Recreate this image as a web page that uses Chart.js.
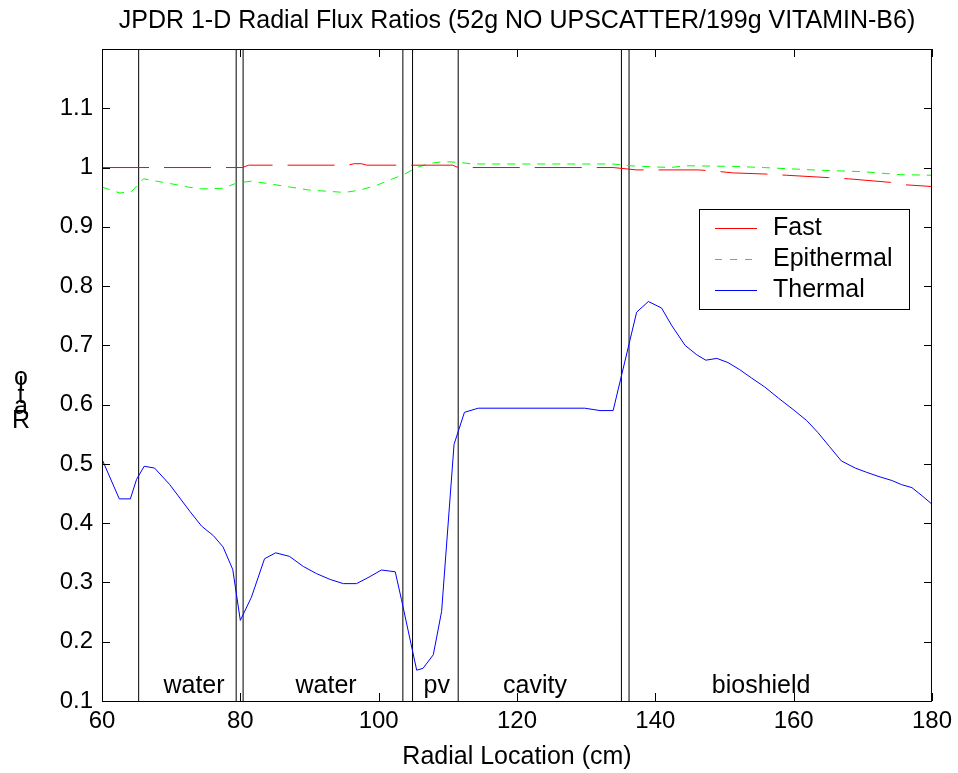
<!DOCTYPE html>
<html>
<head>
<meta charset="utf-8">
<script src="https://cdn.jsdelivr.net/npm/chart.js@4/dist/chart.umd.min.js"></script>
<style>
  html, body { margin: 0; padding: 0; background: #fff; }
</style>
</head>
<body>
<canvas id="fluxChart" width="958" height="773"></canvas>
<script>
// values
const fastX = [60, 80.3, 81.2, 95.5, 96.5, 97.5, 98.3, 110.7, 111.5, 133.9, 137.3, 146.2, 148.6, 151.2, 156.0, 159.0, 165.0, 167.9, 174.0, 176.0, 180];
const fastY = [1.000, 1.000, 1.004, 1.004, 1.0065, 1.0065, 1.004, 1.004, 1.000, 1.000, 0.996, 0.996, 0.994, 0.991, 0.989, 0.987, 0.983, 0.981, 0.975, 0.971, 0.968];

const epiX = [60, 62.6, 64.3, 66, 67.9, 70.3, 72.5, 74.4, 77.5, 79.5, 81.6, 84.0, 87.2, 90.0, 92.5, 95.1, 97.3, 99.7, 101.6, 103.6, 105.5, 107.4, 109.3, 111.3, 113.7, 133.9, 136.3, 142.1, 144.5, 151.2, 155.6, 162.8, 170, 175.4, 180];
const epiY = [0.967, 0.957, 0.960, 0.981, 0.977, 0.972, 0.967, 0.964, 0.965, 0.974, 0.977, 0.973, 0.967, 0.962, 0.960, 0.958, 0.962, 0.970, 0.979, 0.988, 1.000, 1.007, 1.010, 1.009, 1.006, 1.006, 1.003, 1.000, 1.003, 1.002, 1.000, 0.996, 0.993, 0.988, 0.987];

const thermX = [60, 62.5, 64.1, 65.0, 66.1, 67.6, 69.8, 72.7, 74.4, 76.1, 77.5, 78.9, 80.0, 81.6, 83.5, 85.1, 87.1, 89.1, 91.0, 93.0, 94.9, 96.8, 98.6, 100.4, 102.4, 103.3, 105.5, 106.4, 107.9, 109.1, 110.9, 112.4, 114.4, 129.8, 132.0, 133.9, 137.3, 139.0, 140.9, 142.4, 144.3, 146.0, 147.3, 148.9, 150.5, 152.2, 153.9, 155.8, 157.8, 159.9, 161.9, 163.5, 165.2, 166.9, 168.9, 170.5, 172.5, 174.2, 175.6, 177.1, 178.7, 180];
const thermY = [0.508, 0.441, 0.441, 0.474, 0.496, 0.493, 0.465, 0.420, 0.395, 0.379, 0.360, 0.322, 0.236, 0.275, 0.340, 0.350, 0.344, 0.327, 0.315, 0.305, 0.298, 0.298, 0.309, 0.321, 0.318, 0.271, 0.152, 0.155, 0.178, 0.251, 0.533, 0.587, 0.594, 0.594, 0.590, 0.590, 0.756, 0.774, 0.763, 0.733, 0.700, 0.684, 0.675, 0.678, 0.671, 0.659, 0.645, 0.630, 0.611, 0.592, 0.573, 0.553, 0.529, 0.505, 0.493, 0.486, 0.478, 0.472, 0.465, 0.460, 0.445, 0.432];

// material boundaries (cm) and region names
const boundaries = [65.3, 79.4, 80.4, 103.5, 104.9, 111.5, 135.1, 136.2];
const regionNames = ['water', 'water', 'pv', 'cavity', 'bioshield'];
const regionX = [73.3, 92.4, 108.4, 122.6, 155.3];
const regionY = 0.125;

const xTicks = [60, 80, 100, 120, 140, 160, 180];
const yTicks = [0.1, 0.2, 0.3, 0.4, 0.5, 0.6, 0.7, 0.8, 0.9, 1.0, 1.1];

const titleText = 'JPDR 1-D Radial Flux Ratios (52g NO UPSCATTER/199g VITAMIN-B6)';
const xTitle = 'Radial Location (cm)';
const yTitle = 'Ratio';

const FONT = '"Liberation Sans", Arial, sans-serif';

function pts(xs, ys) {
  return xs.map((v, i) => ({ x: v, y: ys[i] }));
}

const decorations = {
  id: 'decorations',
  beforeDatasetsDraw(chart) {
    const { ctx, chartArea: a, scales: { x } } = chart;
    ctx.save();
    ctx.strokeStyle = '#000';
    ctx.lineWidth = 1;
    boundaries.forEach(b => {
      const px = x.getPixelForValue(b);
      ctx.beginPath();
      ctx.moveTo(px, a.top);
      ctx.lineTo(px, a.bottom);
      ctx.stroke();
    });
    ctx.restore();
  },
  afterDraw(chart) {
    const { ctx, chartArea: a, scales: { x, y } } = chart;
    ctx.save();
    ctx.strokeStyle = '#000';
    ctx.lineWidth = 1;
    ctx.setLineDash([]);
    // box
    ctx.strokeRect(a.left + 0.5, a.top + 0.5, a.right - a.left - 1, a.bottom - a.top);
    // inward ticks on all sides
    ctx.beginPath();
    xTicks.forEach(v => {
      const px = Math.round(x.getPixelForValue(v)) + 0.5;
      ctx.moveTo(px, a.bottom); ctx.lineTo(px, a.bottom - 8);
      ctx.moveTo(px, a.top); ctx.lineTo(px, a.top + 8);
    });
    yTicks.forEach(v => {
      const py = Math.round(y.getPixelForValue(v)) + 0.5;
      ctx.moveTo(a.left, py); ctx.lineTo(a.left + 8, py);
      ctx.moveTo(a.right, py); ctx.lineTo(a.right - 8, py);
    });
    ctx.stroke();

    ctx.fillStyle = '#000';
    ctx.font = '25px ' + FONT;
    ctx.textAlign = 'center';
    ctx.textBaseline = 'middle';
    // region labels
    regionNames.forEach((n, i) => {
      ctx.fillText(n, x.getPixelForValue(regionX[i]), y.getPixelForValue(regionY));
    });
    // title and x title
    const cx = (a.left + a.right) / 2;
    ctx.fillText(titleText, cx, 21);
    ctx.fillText(xTitle, cx, 757);
    // y title, letters piled up as in the reference
    ctx.textBaseline = 'alphabetic';
    const yBase = [428, 414, 403, 390, 385];
    yTitle.split('').forEach((c, i) => ctx.fillText(c, 21, yBase[i]));

    // legend
    const lx = 699, ly = 209, lw = 210, lh = 100;
    ctx.fillStyle = '#fff';
    ctx.fillRect(lx, ly, lw, lh);
    ctx.strokeRect(lx + 0.5, ly + 0.5, lw, lh);
    const rows = [228, 259, 290];
    chart.data.datasets.forEach((ds, i) => {
      ctx.strokeStyle = ds.borderColor;
      ctx.setLineDash(i === 1 ? [7, 8] : []);
      ctx.beginPath();
      ctx.moveTo(715, rows[i] + 0.5);
      ctx.lineTo(757, rows[i] + 0.5);
      ctx.stroke();
      ctx.setLineDash([]);
      ctx.fillStyle = '#000';
      ctx.textAlign = 'left';
      ctx.textBaseline = 'middle';
      ctx.fillText(ds.label, 773, rows[i]);
    });
    ctx.restore();
  }
};

new Chart(document.getElementById('fluxChart'), {
  type: 'line',
  data: {
    datasets: [
      { label: 'Fast', data: pts(fastX, fastY), borderColor: '#ff0000', borderWidth: 1, borderDash: [47, 15], pointRadius: 0, tension: 0 },
      { label: 'Epithermal', data: pts(epiX, epiY), borderColor: '#00ff00', borderWidth: 1, borderDash: [8, 7], pointRadius: 0, tension: 0 },
      { label: 'Thermal', data: pts(thermX, thermY), borderColor: '#0000ff', borderWidth: 1, pointRadius: 0, tension: 0 }
    ]
  },
  options: {
    responsive: false,
    animation: false,
    events: [],
    layout: { padding: { top: 49, right: 26, left: 0, bottom: 0 } },
    plugins: {
      legend: { display: false },
      title: { display: false },
      tooltip: { enabled: false }
    },
    scales: {
      x: {
        type: 'linear',
        min: 60,
        max: 180,
        grid: { display: false, drawTicks: false },
        border: { display: false },
        ticks: { color: '#000', font: { family: FONT, size: 24 }, padding: 6, maxRotation: 0 },
        afterBuildTicks: s => { s.ticks = xTicks.map(v => ({ value: v })); },
        afterFit: s => { s.height = 72; }
      },
      y: {
        type: 'linear',
        min: 0.1,
        max: 1.2,
        grid: { display: false, drawTicks: false },
        border: { display: false },
        ticks: {
          color: '#000',
          font: { family: FONT, size: 24 },
          padding: 9,
          callback: v => String(Math.round(v * 10) / 10)
        },
        afterBuildTicks: s => { s.ticks = yTicks.map(v => ({ value: v })); },
        afterFit: s => { s.height; s.width = 102; }
      }
    }
  },
  plugins: [decorations]
});
</script>
</body>
</html>
